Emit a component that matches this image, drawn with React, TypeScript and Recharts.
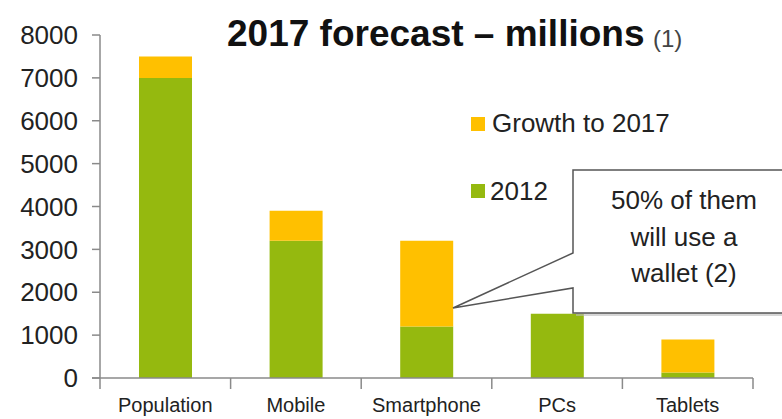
import React from 'react';
import { BarChart, Bar, XAxis, YAxis } from 'recharts';

const categories = ['Population', 'Mobile', 'Smartphone', 'PCs', 'Tablets'];
const values2012 = [7000, 3200, 1200, 1500, 130];
const growthTo2017 = [500, 700, 2000, 0, 770];
const yTicks = [0, 1000, 2000, 3000, 4000, 5000, 6000, 7000, 8000];
const legendLabels = ['Growth to 2017', '2012'];
const calloutLines = ['50% of them', 'will use a', 'wallet (2)'];

const GREEN = '#95B90F';
const ORANGE = '#FFC000';
const AXIS = '#8a8a8a';
const FONT = '"Liberation Sans", Arial, sans-serif';

const data = categories.map((c, i) => ({ name: c, y2012: values2012[i], growth: growthTo2017[i] }));

const W = 782;
const H = 419;
const margin = { top: 35, right: 29, bottom: 0, left: 0 };

const XTick = (props: any) => {
  const { x, y, payload, index } = props;
  const plotW = W - 100 - margin.right;
  const half = plotW / categories.length / 2;
  return (
    <g>
      <line x1={x - half} x2={x - half} y1={y} y2={y + 11} stroke={AXIS} strokeWidth={1.5} />
      {index === categories.length - 1 && (
        <line x1={x + half} x2={x + half} y1={y} y2={y + 11} stroke={AXIS} strokeWidth={1.5} />
      )}
      <text x={x} y={y + 34} textAnchor="middle" fontSize={20} fill="#222" fontFamily={FONT}>
        {payload.value}
      </text>
    </g>
  );
};

export default function App() {
  return (
    <div style={{ position: 'absolute', left: 0, top: 0, width: W, height: H, background: '#fff', fontFamily: FONT }}>
      <BarChart width={W} height={H} data={data} margin={margin} barCategoryGap="0%">
        <XAxis
          dataKey="name"
          height={41}
          tick={<XTick />}
          tickLine={false}
          tickSize={0}
          tickMargin={0}
          axisLine={{ stroke: AXIS, strokeWidth: 1.5 }}
          interval={0}
        />
        <YAxis
          width={100}
          domain={[0, 8000]}
          ticks={yTicks}
          interval={0}
          tickSize={8}
          tickMargin={14}
          axisLine={{ stroke: AXIS, strokeWidth: 1.5 }}
          tickLine={{ stroke: AXIS, strokeWidth: 1.5 }}
          tick={{ fontSize: 26, fill: '#222', fontFamily: FONT }}
        />
        <Bar dataKey="y2012" stackId="a" fill={GREEN} barSize={53} isAnimationActive={false} />
        <Bar dataKey="growth" stackId="a" fill={ORANGE} barSize={53} isAnimationActive={false} />
      </BarChart>
      <svg width={W} height={H} style={{ position: 'absolute', left: 0, top: 0, pointerEvents: 'none' }}>
        <text x={227} y={46} fontSize={37} fontWeight="bold" fill="#111" fontFamily={FONT}>
          2017 forecast – millions
        </text>
        <text x={653} y={47} fontSize={24} fill="#444" fontFamily={FONT}>
          (1)
        </text>
        <rect x={471} y={117} width={14} height={14} fill={ORANGE} />
        <text x={492} y={132} fontSize={26} fill="#222" fontFamily={FONT}>{legendLabels[0]}</text>
        <rect x={471} y={184} width={14} height={14} fill={GREEN} />
        <text x={490} y={200} fontSize={26} fill="#222" fontFamily={FONT}>{legendLabels[1]}</text>
        <path
          d="M 576 173 L 790 173 L 790 316 L 576 316 L 576 291 Z"
          fill="#bbb"
          opacity={0.6}
        />
        <path
          d="M 573 170 L 790 170 L 790 313 L 573 313 L 573 288 L 453 308 L 573 253 Z"
          fill="#fff"
          stroke="#555"
          strokeWidth={1.5}
        />
        {calloutLines.map((t, i) => (
          <text key={t} x={684} y={209 + i * 36.5} textAnchor="middle" fontSize={26} fill="#222" fontFamily={FONT}>
            {t}
          </text>
        ))}
        <line x1={92} x2={100} y1={378} y2={378} stroke={AXIS} strokeWidth={1.5} />
      </svg>
    </div>
  );
}
